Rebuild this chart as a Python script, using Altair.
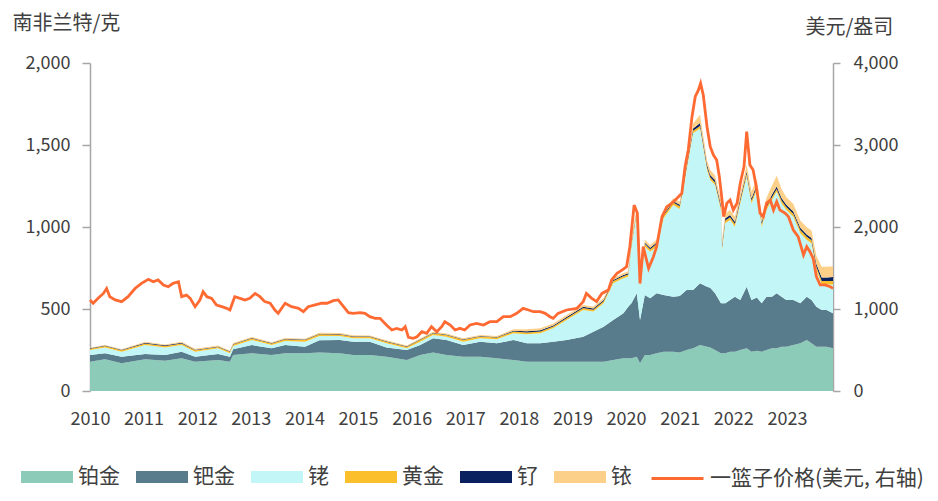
import altair as alt
import pandas as pd

FONT = "Noto Sans CJK SC"
TXT = "#404040"
AXC = "#a6a6a6"

METALS = ["铂金", "钯金", "铑", "黄金", "钌", "铱"]
COLORS = ["#8ccbb7", "#587c8c", "#c3f7f7", "#fbbf2c", "#0a2160", "#fdd08a"]
LINE_NAME = "一篮子价格(美元, 右轴)"
LINE_COLOR = "#ff6a33"

STACK_YEARS = [2010.00, 2010.28, 2010.59, 2011.03, 2011.40, 2011.71, 2011.96, 2012.39, 2012.61, 2012.67,
               2013.02, 2013.39, 2013.64, 2014.01, 2014.28, 2014.66, 2014.91, 2015.22, 2015.53, 2015.91,
               2016.16, 2016.40, 2016.65, 2016.96, 2017.28, 2017.59, 2017.90, 2018.15, 2018.40, 2018.64,
               2018.89, 2019.20, 2019.39, 2019.58, 2019.76, 2019.95, 2020.04, 2020.10, 2020.20, 2020.26,
               2020.35, 2020.45, 2020.57, 2020.70, 2020.88, 2021.00, 2021.13, 2021.25, 2021.38, 2021.51,
               2021.57, 2021.66, 2021.77, 2021.79, 2021.85, 2021.94, 2022.03, 2022.13, 2022.25, 2022.34,
               2022.44, 2022.53, 2022.62, 2022.72, 2022.81, 2022.90, 2022.99, 2023.12, 2023.25, 2023.37,
               2023.46, 2023.55, 2023.65, 2023.74, 2023.86]
PLATINUM = [179, 193, 169, 193, 185, 199, 179, 189, 179, 220,
            230, 220, 230, 230, 235, 230, 220, 220, 209, 189,
            220, 234, 220, 209, 209, 199, 189, 179, 179, 179,
            179, 179, 179, 179, 189, 199, 199, 199, 209, 169,
            220, 220, 230, 240, 240, 235, 250, 260, 280, 270,
            265, 250, 230, 230, 230, 240, 240, 250, 260, 240,
            245, 240, 250, 260, 260, 270, 270, 280, 291, 311,
            291, 270, 270, 270, 260]
PALLADIUM = [41, 37, 40, 33, 35, 41, 30, 37, 30, 34,
             50, 40, 50, 40, 75, 81, 81, 81, 57, 61,
             60, 87, 91, 71, 92, 92, 122, 112, 112, 122,
             132, 152, 183, 213, 244, 275, 315, 336, 387, 264,
             365, 345, 366, 345, 335, 345, 366, 356, 377, 366,
             365, 346, 305, 305, 305, 315, 335, 305, 376, 315,
             325, 295, 325, 315, 336, 305, 285, 275, 244, 264,
             264, 244, 224, 224, 214]
RHODIUM = [30, 36, 31, 54, 46, 40, 31, 34, 21, 20,
           31, 20, 25, 31, 26, 24, 20, 20, 25, 10,
           21, 20, 20, 21, 20, 24, 41, 55, 61, 81,
           122, 163, 122, 143, 224, 213, 183, 345, 488, 203,
           295, 284, 284, 468, 559, 530, 732, 955, 943, 712,
           657, 660, 569, 325, 488, 488, 427, 589, 671, 589,
           656, 467, 529, 590, 619, 569, 549, 508, 427, 346,
           345, 224, 156, 156, 176]
GOLD = [8, 8, 8, 9, 9, 10, 9, 9, 9, 10,
        10, 10, 10, 10, 10, 10, 10, 10, 10, 10,
        11, 11, 11, 11, 11, 11, 11, 11, 11, 11,
        11, 12, 12, 13, 13, 13, 14, 15, 15, 15,
        16, 16, 17, 17, 16, 16, 16, 16, 16, 16,
        16, 16, 16, 16, 16, 16, 16, 17, 17, 17,
        17, 17, 17, 17, 17, 18, 18, 18, 19, 19,
        19, 19, 20, 20, 20]
RUTHENIUM = [3, 3, 3, 5, 4, 4, 3, 3, 3, 3,
             3, 3, 3, 3, 3, 3, 3, 3, 3, 3,
             3, 3, 3, 3, 3, 3, 4, 7, 7, 7,
             7, 7, 7, 7, 7, 7, 7, 8, 8, 8,
             8, 8, 8, 8, 8, 9, 12, 14, 18, 15,
             14, 14, 14, 14, 14, 14, 14, 14, 15, 15,
             14, 12, 13, 14, 15, 15, 14, 14, 14, 14,
             14, 18, 22, 22, 25]
IRIDIUM = [3, 3, 3, 6, 5, 6, 5, 5, 4, 5,
           5, 5, 5, 5, 6, 6, 6, 5, 5, 5,
           5, 6, 6, 6, 6, 6, 9, 12, 12, 12,
           12, 12, 12, 12, 12, 12, 12, 18, 18, 18,
           18, 18, 18, 18, 18, 20, 30, 30, 50, 30,
           30, 30, 30, 30, 30, 30, 30, 30, 40, 40,
           35, 30, 45, 55, 65, 55, 45, 45, 45, 45,
           45, 50, 65, 65, 65]

LINE_YEARS = [2010.00, 2010.06, 2010.15, 2010.25, 2010.31, 2010.37, 2010.47, 2010.59, 2010.71, 2010.84,
              2010.96, 2011.09, 2011.18, 2011.27, 2011.37, 2011.46, 2011.55, 2011.65, 2011.71, 2011.80,
              2011.87, 2011.96, 2012.05, 2012.11, 2012.18, 2012.27, 2012.36, 2012.46, 2012.55, 2012.61,
              2012.70, 2012.80, 2012.89, 2012.98, 2013.08, 2013.17, 2013.26, 2013.36, 2013.45, 2013.51,
              2013.64, 2013.76, 2013.89, 2013.98, 2014.07, 2014.20, 2014.32, 2014.42, 2014.54, 2014.63,
              2014.73, 2014.82, 2014.91, 2015.04, 2015.13, 2015.22, 2015.32, 2015.41, 2015.53, 2015.63,
              2015.72, 2015.82, 2015.88, 2015.94, 2016.03, 2016.10, 2016.19, 2016.28, 2016.37, 2016.47,
              2016.56, 2016.62, 2016.72, 2016.81, 2016.90, 2016.99, 2017.09, 2017.21, 2017.34, 2017.46,
              2017.59, 2017.71, 2017.84, 2017.96, 2018.08, 2018.18, 2018.27, 2018.40, 2018.49, 2018.58,
              2018.64, 2018.73, 2018.89, 2019.08, 2019.20, 2019.26, 2019.36, 2019.45, 2019.55, 2019.67,
              2019.73, 2019.83, 2019.93, 2020.01, 2020.07, 2020.15, 2020.21, 2020.26, 2020.32, 2020.42,
              2020.51, 2020.57, 2020.67, 2020.76, 2020.85, 2020.95, 2021.04, 2021.10, 2021.16, 2021.23,
              2021.29, 2021.35, 2021.39, 2021.44, 2021.51, 2021.57, 2021.63, 2021.69, 2021.74, 2021.79,
              2021.82, 2021.88, 2021.94, 2022.00, 2022.07, 2022.13, 2022.20, 2022.25, 2022.31, 2022.37,
              2022.44, 2022.50, 2022.56, 2022.62, 2022.69, 2022.75, 2022.81, 2022.87, 2022.97, 2023.03,
              2023.12, 2023.21, 2023.31, 2023.37, 2023.43, 2023.49, 2023.55, 2023.62, 2023.71, 2023.81,
              2023.86]
BASKET = [1110, 1070, 1130, 1190, 1250, 1150, 1110, 1090, 1150, 1250,
          1313, 1362, 1333, 1354, 1293, 1272, 1313, 1333, 1150, 1170,
          1130, 1028, 1110, 1211, 1150, 1130, 1049, 1028, 1008, 988,
          1150, 1130, 1110, 1130, 1190, 1150, 1090, 1070, 988, 947,
          1070, 1028, 1008, 967, 1028, 1049, 1070, 1070, 1101, 1110,
          1028, 955, 947, 955, 947, 906, 886, 886, 805, 744,
          764, 744, 784, 655, 642, 662, 723, 703, 784, 723,
          784, 845, 805, 744, 764, 744, 805, 825, 805, 845,
          845, 906, 906, 947, 1008, 988, 967, 967, 947, 906,
          886, 947, 988, 1008, 1090, 1190, 1130, 1090, 1190, 1231,
          1354, 1435, 1476, 1516, 1760, 2268, 2170, 1313, 1760, 1496,
          1638, 1760, 2126, 2248, 2289, 2350, 2411, 2736, 2939, 3345,
          3589, 3671, 3752, 3610, 3223, 2980, 2878, 2817, 2614, 2329,
          2126, 2289, 2329, 2207, 2289, 2533, 2736, 3162, 2756, 2695,
          2451, 2167, 2126, 2289, 2329, 2207, 2309, 2207, 2167, 2126,
          1963, 1882, 1659, 1760, 1699, 1618, 1394, 1293, 1293, 1272,
          1252]

rows = []
for idx, (name, vals) in enumerate(zip(METALS, [PLATINUM, PALLADIUM, RHODIUM, GOLD, RUTHENIUM, IRIDIUM])):
    for yr, v in zip(STACK_YEARS, vals):
        rows.append({"year": yr, "metal": name, "value": v, "idx": idx})
stack_df = pd.DataFrame(rows)
line_df = pd.DataFrame({"year": LINE_YEARS, "basket": BASKET, "series": LINE_NAME})

x_enc = alt.X("year:Q",
              scale=alt.Scale(domain=[2010, 2023.86], nice=False, zero=False),
              axis=alt.Axis(values=list(range(2010, 2024)), format="d", domain=False, ticks=False,
                            grid=False, labelPadding=19, labelFlush=False, labelFont=FONT,
                            labelFontSize=18, labelColor=TXT, title=None))

axis_common = dict(grid=False, domainColor=AXC, domainWidth=1.5, tickColor=AXC, tickWidth=1.5,
                   labelFont=FONT, labelFontSize=18, labelColor=TXT, format=",d",
                   titleFont=FONT, titleFontSize=20, titleFontWeight="normal", titleColor=TXT,
                   titleAngle=0, titleAlign="left", titleBaseline="middle")

sym_rect = "M-1,-0.23H1V0.23H-1Z"
fill_legend = alt.Legend(title=None, orient="none", direction="horizontal", columns=6,
                         legendX=-69, legendY=388, symbolType=sym_rect, symbolSize=2704,
                         symbolStrokeWidth=0, symbolOpacity=1, labelFont=FONT, labelFontSize=21,
                         labelColor=TXT, labelOffset=5, columnPadding=16, labelLimit=300)
line_legend = alt.Legend(title=None, orient="none", direction="horizontal",
                         legendX=560, legendY=388, symbolType="stroke", symbolSize=2704,
                         symbolStrokeWidth=3, labelFont=FONT, labelFontSize=21,
                         labelColor=TXT, labelOffset=5, labelLimit=400)

areas = alt.Chart(stack_df).mark_area(opacity=1, interpolate="linear").encode(
    x=x_enc,
    y=alt.Y("value:Q", stack="zero",
            scale=alt.Scale(domain=[0, 2000], nice=False),
            axis=alt.Axis(values=[0, 500, 1000, 1500, 2000], tickSize=8, labelPadding=12,
                          title="南非兰特/克", titleX=-78, titleY=-40, orient="left", **axis_common)),
    fill=alt.Fill("metal:N", scale=alt.Scale(domain=METALS, range=COLORS), legend=fill_legend),
    order=alt.Order("idx:Q", sort="ascending"),
)

line = alt.Chart(line_df).mark_line(strokeWidth=2.8).encode(
    x=x_enc,
    y=alt.Y("basket:Q", scale=alt.Scale(domain=[0, 4000], nice=False),
            axis=alt.Axis(values=[0, 1000, 2000, 3000, 4000], tickSize=7, labelPadding=13,
                          title="美元/盎司", titleX=-28, titleY=-36, orient="right", **axis_common)),
    stroke=alt.Stroke("series:N", scale=alt.Scale(domain=[LINE_NAME], range=[LINE_COLOR]),
                      legend=line_legend),
)

chart = alt.layer(areas, line).resolve_scale(y="independent").properties(
    width=743, height=328,
    autosize=alt.AutoSizeParams(type="none"),
    padding={"left": 82, "top": 55, "right": 95, "bottom": 100},
    background="white",
).configure_view(stroke=None)

chart.save("out.html", embed_options={"renderer": "svg", "actions": False})
